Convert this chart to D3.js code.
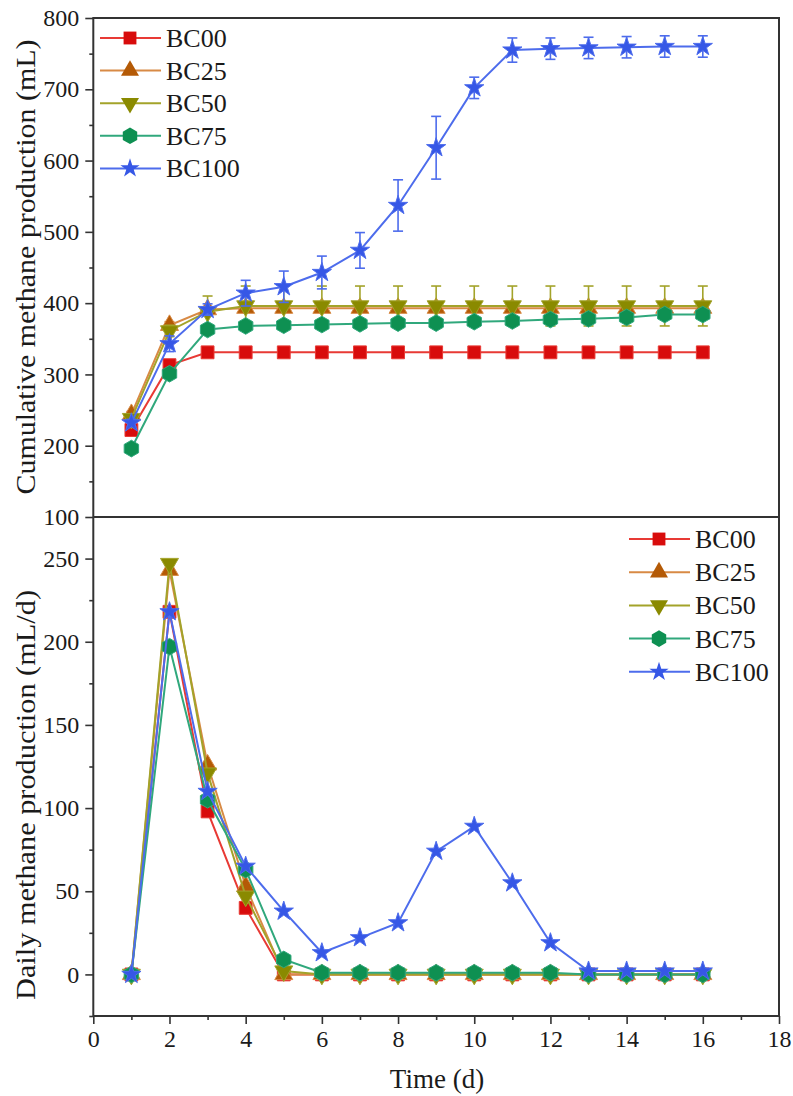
<!DOCTYPE html>
<html>
<head>
<meta charset="utf-8">
<style>
    body { margin: 0; background: #fff; }
    svg { display: block; font-family: 'Liberation Serif', 'Times New Roman', serif; }
    .axis .domain { display: none; }
    .axis .tick line { stroke: #333; stroke-width: 1.6px; }
    .axis .tick text { font-size: 24px; fill: #1a1a1a; font-family: 'Liberation Serif', serif; }
    .legend text { font-size: 26px; fill: #1a1a1a; }
    .title { font-size: 27px; fill: #1a1a1a; }
</style>
</head>
<body>
<svg width="793" height="1096"></svg>
<script src="https://cdn.jsdelivr.net/npm/d3@7/dist/d3.min.js"></script>
<script>
    // data
    let days = [1, 2, 3, 4, 5, 6, 7, 8, 9, 10, 11, 12, 13, 14, 15, 16]
    let seriesNames = ["BC00", "BC25", "BC50", "BC75", "BC100"]

    // cumulative methane production (mL)
    let cumBC00 = [222, 313, 331, 331, 331, 331, 331, 331, 331, 331, 331, 331, 331, 331, 331, 331]
    let cumBC25 = [244, 369, 391, 393, 393, 393, 393, 393, 393, 393, 393, 393, 393, 393, 393, 393]
    let cumBC50 = [238, 361, 388, 396, 396, 396, 396, 396, 396, 396, 396, 396, 396, 396, 396, 396]
    let cumBC75 = [196, 301, 363, 368, 369, 370, 371, 372, 372, 374, 375, 377, 378, 380, 384, 384]
    let cumBC100 = [232, 343, 391, 414, 423, 443, 474, 537, 618, 702, 755, 757, 758, 759, 760, 760]

    // standard deviation of the cumulative values
    let errBC00 = [2, 2, 2, 2, 2, 2, 2, 2, 2, 2, 2, 2, 2, 2, 2, 2]
    let errBC25 = [4, 5, 4, 3, 3, 3, 3, 3, 3, 3, 3, 3, 3, 3, 3, 3]
    let errBC50 = [4, 8, 22, 28, 28, 28, 28, 28, 28, 28, 28, 28, 28, 28, 28, 28]
    let errBC75 = [3, 4, 3, 3, 3, 3, 3, 3, 3, 3, 3, 3, 3, 3, 3, 3]
    let errBC100 = [5, 11, 8, 18, 22, 23, 25, 36, 44, 15, 17, 15, 15, 15, 15, 15]

    // daily methane production (mL/d)
    let dayBC00 = [0, 218, 98, 40, 0, 0, 0, 0, 0, 0, 0, 0, 0, 0, 0, 0]
    let dayBC25 = [0, 243, 126, 53, 0, 0, 0, 0, 0, 0, 0, 0, 0, 0, 0, 0]
    let dayBC50 = [0, 247, 121, 47, 2, 0, 0, 0, 0, 0, 0, 0, 0, 0, 0, 0]
    let dayBC75 = [0, 197, 105, 63, 9, 1, 1, 1, 1, 1, 1, 1, 0, 0, 0, 0]
    let dayBC100 = [0, 218, 110, 65, 38, 13, 22, 31, 74, 89, 55, 19, 2, 2, 2, 2]

    let xTicks = [0, 2, 4, 6, 8, 10, 12, 14, 16, 18]
    let xMinor = [1, 3, 5, 7, 9, 11, 13, 15, 17]
    let topTicks = [100, 200, 300, 400, 500, 600, 700, 800]
    let topMinor = [150, 250, 350, 450, 550, 650, 750]
    let botTicks = [0, 50, 100, 150, 200, 250]
    let botMinor = [-25, 25, 75, 125, 175, 225]

    let cumData = [cumBC00, cumBC25, cumBC50, cumBC75, cumBC100]
    let errData = [errBC00, errBC25, errBC50, errBC75, errBC100]
    let dayData = [dayBC00, dayBC25, dayBC50, dayBC75, dayBC100]

    let lineColors = ["#e83a35", "#d88a45", "#a3a32a", "#30a87c", "#4d6cec"]
    let markColors = ["#d80c0c", "#b45a06", "#8a8a00", "#0e9052", "#3657e6"]

    // hexagon marker, d3 has none
    let symbolHexagon = {
        draw(context, size) {
            let r = Math.sqrt(size / (1.5 * Math.sqrt(3)))
            for (let i = 0; i < 6; i++) {
                let a = Math.PI / 3 * i - Math.PI / 2
                if (i == 0) context.moveTo(r * Math.cos(a), r * Math.sin(a))
                else context.lineTo(r * Math.cos(a), r * Math.sin(a))
            }
            context.closePath()
        }
    }
    let symbols = [
        { type: d3.symbolSquare, size: 165, rot: 0 },
        { type: d3.symbolTriangle, size: 140, rot: 0 },
        { type: d3.symbolTriangle, size: 140, rot: 180 },
        { type: symbolHexagon, size: 180, rot: 0 },
        { type: d3.symbolStar, size: 115, rot: 0 }
    ]

    let svg = d3.select("svg")
    let plotLeft = 93.3, plotRight = 779, plotTop = 18, plotMid = 517, plotBottom = 1016

    let x = d3.scaleLinear().domain([0, 18]).range([plotLeft, plotRight])
    let yTop = d3.scaleLinear().domain([100, 800]).range([plotMid, plotTop])
    let yBot = d3.scaleLinear().domain([-25, 275]).range([plotBottom, plotMid])

    // axes
    svg.append("g").attr("class", "axis")
        .attr("transform", `translate(${plotLeft},0)`)
        .call(d3.axisLeft(yTop).tickValues(topTicks).tickSize(8).tickPadding(6))
    svg.append("g").attr("class", "axis")
        .attr("transform", `translate(${plotLeft},0)`)
        .call(d3.axisLeft(yTop).tickValues(topMinor).tickSize(4).tickFormat(""))
    svg.append("g").attr("class", "axis")
        .attr("transform", `translate(${plotLeft},0)`)
        .call(d3.axisLeft(yBot).tickValues(botTicks).tickSize(8).tickPadding(6))
    svg.append("g").attr("class", "axis")
        .attr("transform", `translate(${plotLeft},0)`)
        .call(d3.axisLeft(yBot).tickValues(botMinor).tickSize(4).tickFormat(""))
    svg.append("g").attr("class", "axis")
        .attr("transform", `translate(0,${plotBottom})`)
        .call(d3.axisBottom(x).tickValues(xTicks).tickSize(8).tickPadding(6))
    svg.append("g").attr("class", "axis")
        .attr("transform", `translate(0,${plotBottom})`)
        .call(d3.axisBottom(x).tickValues(xMinor).tickSize(4).tickFormat(""))

    // frames of both panels
    svg.append("path")
        .attr("d", `M${plotLeft},${plotTop}H${plotRight}V${plotBottom}H${plotLeft}Z M${plotLeft},${plotMid}H${plotRight}`)
        .attr("fill", "none")
        .attr("stroke", "#333")
        .attr("stroke-width", 2)

    function drawPanel(values, y, errors) {
        let g = svg.append("g")
        values.forEach(function (vals, s) {
            let pts = days.map((d, i) => ({ d: d, v: vals[i], e: errors ? errors[s][i] : 0 }))
            let sg = g.append("g")
            if (errors) {
                let eb = sg.selectAll(".err").data(pts).join("g")
                    .attr("stroke", lineColors[s])
                    .attr("stroke-width", 1.6)
                eb.append("line")
                    .attr("x1", p => x(p.d)).attr("x2", p => x(p.d))
                    .attr("y1", p => y(p.v - p.e)).attr("y2", p => y(p.v + p.e))
                eb.append("line")
                    .attr("x1", p => x(p.d) - 5).attr("x2", p => x(p.d) + 5)
                    .attr("y1", p => y(p.v + p.e)).attr("y2", p => y(p.v + p.e))
                eb.append("line")
                    .attr("x1", p => x(p.d) - 5).attr("x2", p => x(p.d) + 5)
                    .attr("y1", p => y(p.v - p.e)).attr("y2", p => y(p.v - p.e))
            }
            sg.append("path")
                .datum(pts)
                .attr("fill", "none")
                .attr("stroke", lineColors[s])
                .attr("stroke-width", 2)
                .attr("d", d3.line().x(p => x(p.d)).y(p => y(p.v)))
            sg.selectAll(".mark").data(pts).join("path")
                .attr("transform", p => `translate(${x(p.d)},${y(p.v)}) rotate(${symbols[s].rot})`)
                .attr("d", d3.symbol().type(symbols[s].type).size(symbols[s].size))
                .attr("fill", markColors[s])
                .attr("stroke", lineColors[s])
                .attr("stroke-width", 1)
        })
    }

    drawPanel(cumData, yTop, errData)
    drawPanel(dayData, yBot, null)

    function drawLegend(lx, ly, gap) {
        let lg = svg.append("g").attr("class", "legend")
        seriesNames.forEach(function (name, s) {
            let yy = ly + s * gap
            lg.append("line")
                .attr("x1", lx).attr("x2", lx + 61)
                .attr("y1", yy).attr("y2", yy)
                .attr("stroke", lineColors[s])
                .attr("stroke-width", 2)
            lg.append("path")
                .attr("transform", `translate(${lx + 30},${yy}) rotate(${symbols[s].rot})`)
                .attr("d", d3.symbol().type(symbols[s].type).size(symbols[s].size))
                .attr("fill", markColors[s])
            lg.append("text")
                .attr("x", lx + 66)
                .attr("y", yy + 9)
                .text(name)
        })
    }

    drawLegend(100, 38, 32.6)
    drawLegend(629, 539, 33.2)

    // axis titles
    svg.append("text")
        .attr("class", "title")
        .attr("transform", "translate(35,267) rotate(-90)")
        .attr("text-anchor", "middle")
        .attr("textLength", 455)
        .attr("lengthAdjust", "spacingAndGlyphs")
        .text("Cumulative methane production (mL)")
    svg.append("text")
        .attr("class", "title")
        .attr("transform", "translate(35,795) rotate(-90)")
        .attr("text-anchor", "middle")
        .attr("textLength", 410)
        .attr("lengthAdjust", "spacingAndGlyphs")
        .text("Daily methane production (mL/d)")
    svg.append("text")
        .attr("class", "title")
        .attr("x", 437)
        .attr("y", 1088)
        .attr("text-anchor", "middle")
        .text("Time (d)")
</script>
</body>
</html>
